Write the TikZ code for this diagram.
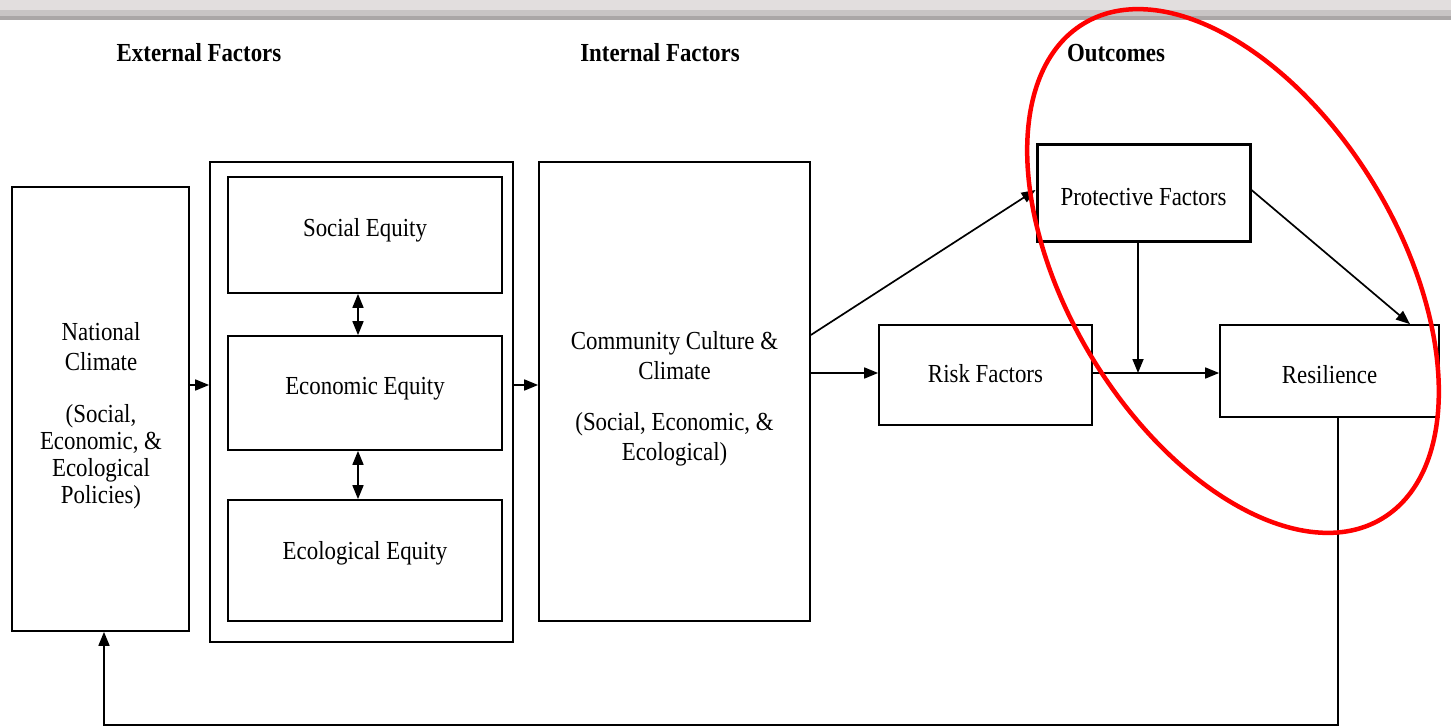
\documentclass[tikz,border=0pt]{standalone}
\usepackage{fontspec}
\setmainfont{Liberation Serif}[FakeStretch=0.88]
\usetikzlibrary{arrows.meta}
\begin{document}
\begin{tikzpicture}[x=1pt,y=-1pt,
  box/.style={draw=black, line width=1.7pt, inner sep=0pt},
  thickbox/.style={box, line width=3pt},
  txt/.style={align=center, inner sep=0pt, font=\fontsize{26}{30}\selectfont},
  arr/.style={line width=1.7pt, -{Triangle[length=14pt,width=11pt]}},
  darr/.style={line width=1.7pt, {Triangle[length=14pt,width=11pt]}-{Triangle[length=14pt,width=11pt]}},
  head/.style={font=\fontsize{26}{30}\selectfont\bfseries},
  ring/.style={draw=red, line width=4.5pt}
]
\useasboundingbox (0,0) rectangle (1451,727);
% top strip
\fill[color={rgb,255:red,226;green,222;blue,222}] (0,0) rectangle (1451,10);
\fill[color={rgb,255:red,200;green,196;blue,196}] (0,10) rectangle (1451,16);
\fill[color={rgb,255:red,170;green,166;blue,166}] (0,16) rectangle (1451,20.5);

% headings
\node[head] (hext) at (199,53) {External Factors};
\node[head] (hint) at (660,53) {Internal Factors};
\node[head] (hout) at (1116,53) {Outcomes};

% boxes
\node[box, minimum width=177pt, minimum height=444pt] (nat) at (100.5,409) {};
\node[box, minimum width=303pt, minimum height=480pt] (outer) at (361.5,402) {};
\node[box, minimum width=274pt, minimum height=116pt] (soc) at (365,235) {};
\node[box, minimum width=274pt, minimum height=114pt] (eco) at (365,393) {};
\node[box, minimum width=274pt, minimum height=121pt] (ecl) at (365,560.5) {};
\node[box, minimum width=271pt, minimum height=459pt] (com) at (674.5,391.5) {};
\node[thickbox, minimum width=213pt, minimum height=97pt] (pro) at (1143.5,193.5) {};
\node[box, minimum width=213pt, minimum height=100pt] (risk) at (985.5,375) {};
\node[box, minimum width=219pt, minimum height=92pt] (res) at (1329.5,371) {};

% box texts
\node[txt] (natt) at (101,415.5)
  {National\\Climate\\[22pt](Social,\\[-3.5pt]Economic, \&\\[-3pt]Ecological\\[-3pt]Policies)};
\node[txt] (soct) at (365,230) {Social Equity};
\node[txt] (ecot) at (365,389) {Economic Equity};
\node[txt] (eclt) at (365,553) {Ecological Equity};
\node[txt] (comt) at (674.5,398.5)
  {Community Culture \&\\Climate\\[21pt](Social, Economic, \&\\Ecological)};
\node[txt] (prot) at (1143.5,197.5) {Protective Factors};
\node[txt] (riskt) at (985.5,374) {Risk Factors};
\node[txt] (rest) at (1329.5,375) {Resilience};

% helper coordinates
\coordinate (h1) at (0,385);
\coordinate (h2) at (0,373);
\coordinate (v1) at (358,0);
\coordinate (j) at (1138,373);
\coordinate (c1) at (0,335);
\coordinate (p1) at (0,190);
\coordinate (r1) at (1410,0);
\coordinate (fb1) at (1338,725);
\coordinate (fb2) at (104,725);

% connectors
\draw[arr] (nat.east |- h1) -- (outer.west |- h1);
\draw[arr] (outer.east |- h1) -- (com.west |- h1);
\draw[darr] (soc.south -| v1) -- (eco.north -| v1);
\draw[darr] (eco.south -| v1) -- (ecl.north -| v1);
\draw[arr] (com.east |- c1) -- (pro.west |- p1);
\draw[arr] (com.east |- h2) -- (risk.west |- h2);
\draw[arr] (risk.east |- h2) -- (res.west |- h2);
\draw[arr] (pro.south -| j) -- (j);
\draw[arr] (pro.east |- p1) -- (res.north -| r1);
\draw[arr] (res.south -| fb1) -- (fb1) -- (fb2) -- (nat.south -| fb2);

% red ellipse
\draw[ring, rotate around={-58.9:(1233,271)}] (1233,271) ellipse [x radius=289pt, y radius=165.5pt];
\end{tikzpicture}
\end{document}
